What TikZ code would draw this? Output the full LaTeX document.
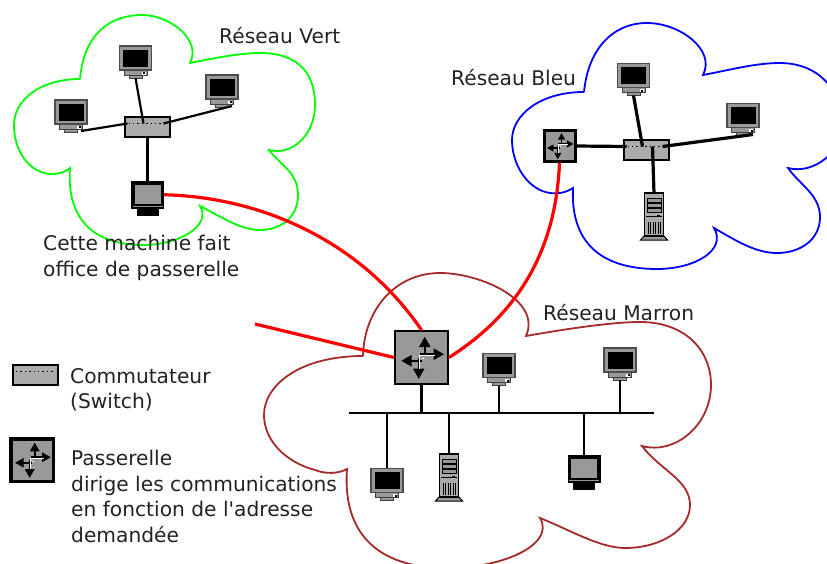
\documentclass[tikz,border=0pt]{standalone}
\usepackage{fontspec}
\setmainfont{DejaVu Sans}[Ligatures=TeXOff]
\usetikzlibrary{arrows.meta}

\definecolor{brique}{HTML}{A52A2A}
\definecolor{encre}{HTML}{222222}
\definecolor{gris}{HTML}{999999}
\definecolor{grisclair}{HTML}{ABABAB}

\tikzset{
	cloudline/.style={line width=1.8pt},
	cable/.style={line width=2.2pt},
	cablefort/.style={line width=3.2pt},
	redline/.style={red,line width=3.2pt},
	label/.style={anchor=north west,inner sep=0pt,align=left,text=encre,font=\fontsize{20.2}{25.5}\selectfont},
	pics/pc/.style={code={
		\draw[fill=gris,draw=black!75,line width=1pt] (-6.5,16) rectangle (6.5,20);
		\draw[fill=gris,draw=black!75,line width=1pt] (-11.5,12) rectangle (11.5,17);
		\fill[white] (6,13.5) rectangle (10,16.5);
		\fill[black] (7.5,14) rectangle (9.5,16);
		\node[draw=black!70,fill=gris,line width=1.2pt,minimum width=32pt,minimum height=24pt,inner sep=0pt] (box) at (0,0) {};
		\fill[black] (-12.5,-8.5) rectangle (12.5,8.5);
		\coordinate (port) at (0,20);
		\coordinate (portr) at (10,19);
	}},
	pics/terminal/.style={code={
		\fill[black] (-11,13) rectangle (11,20.5);
		\node[fill=black,minimum width=33pt,minimum height=27.5pt,inner sep=0pt] (box) at (0,-.25) {};
		\fill[gris] (-13,-10.5) rectangle (13,8.5);
		\fill[gris] (-15,10.5) rectangle (15,12);
		\coordinate (port) at (0,-14);
	}},
	pics/tower/.style={code={
		\draw[fill=gris,line width=1pt] (-13.5,22) -- (-10,18) -- (10,18) -- (13.5,22) -- cycle;
		\node[draw=black,fill=grisclair,line width=1.2pt,minimum width=19pt,minimum height=43pt,inner sep=0pt] (box) at (0,-3.5) {};
		\foreach \y in {-20,-15,-10} {
			\draw[fill=gris,line width=.8pt] (-7,\y) rectangle (7,\y+4.5);
		}
		\draw[line width=.8pt] (-8,-2) -- (8,-2);
		\fill[black] (3,-3.5) rectangle (6,-1);
		\foreach \x in {-6,-3.5,-1,1.5,4,6.5} {
			\draw[line width=.8pt] (\x,4) -- (\x,16);
		}
		\coordinate (port) at (0,-25);
	}},
	pics/switchbox/.style={code={
		\node[draw=black,fill=grisclair,line width=2pt,minimum width=45pt,minimum height=20pt,inner sep=0pt] (box) at (0,0) {};
		\draw[black,line width=1.4pt,dash pattern=on 1.4pt off 3pt] (-19,-3) -- (19,-3);
		\coordinate (w) at (-20,-3);
		\coordinate (n) at (-4,-3);
		\coordinate (s) at (6,-3);
		\coordinate (e) at (16,-3);
	}},
	pics/gateway/.style 2 args={code={
		\node[draw=black,fill=gris,line width=#2,minimum width=#1 pt-#2,minimum height=#1 pt-#2,inner sep=0pt] (box) at (0,0) {};
		\begin{scope}[x=#1 pt,y=-#1 pt,>={Triangle[length=#1*.19pt,width=#1*.2pt]}]
			\draw[->,line width=#1*.045pt] (.06,-.03) -- (.06,-.38);
			\draw[->,line width=#1*.045pt] (-.03,-.06) -- (.41,-.06);
			\draw[->,line width=#1*.045pt] (.01,.06) -- (-.37,.06);
			\draw[->,line width=#1*.045pt] (-.05,.01) -- (-.05,.39);
			\draw[white,line width=#1*.018pt] (-.04,.2) -- (-.04,-.04) -- (.25,-.04);
			\draw[white,line width=#1*.014pt] (0,.02) -- (.05,.02);
		\end{scope}
	}}
}

\begin{document}
\begin{tikzpicture}[x=1pt,y=-1pt]
	\useasboundingbox (0,0) rectangle (827,563);

	\draw[green,cloudline] (80,79) .. controls (84,32) and (112,15) .. (142,15)
		.. controls (170,15) and (202,40) .. (190,63)
		.. controls (215,58) and (240,53) .. (260,53)
		.. controls (295,53) and (315,70) .. (315,105)
		.. controls (315,135) and (292,156) .. (269,150)
		.. controls (280,165) and (298,172) .. (298,195)
		.. controls (298,218) and (280,230) .. (260,230)
		.. controls (240,230) and (220,216) .. (200,206)
		.. controls (212,225) and (180,245) .. (143,245)
		.. controls (100,245) and (66,225) .. (70,168)
		.. controls (62,174) and (55,174) .. (50,174)
		.. controls (28,172) and (14,150) .. (14,125)
		.. controls (14,100) and (40,79) .. (80,79);
	\draw[blue,cloudline] (584,92) .. controls (588,50) and (612,23) .. (647,23)
		.. controls (680,23) and (716,50) .. (703,75)
		.. controls (730,70) and (755,63) .. (780,63)
		.. controls (810,63) and (840,80) .. (842,125)
		.. controls (843,150) and (815,175) .. (788,168)
		.. controls (800,185) and (820,195) .. (820,217)
		.. controls (820,240) and (800,253) .. (777,253)
		.. controls (755,253) and (735,240) .. (714,228)
		.. controls (727,250) and (695,269) .. (657,269)
		.. controls (610,269) and (570,250) .. (573,188)
		.. controls (565,193) and (558,194) .. (550,193)
		.. controls (528,190) and (512,165) .. (512,140)
		.. controls (512,115) and (540,92) .. (584,92);
	\draw[brique,cloudline] (363,356) .. controls (364,310) and (395,273) .. (440,273)
		.. controls (480,273) and (542,300) .. (526,336)
		.. controls (560,330) and (610,322) .. (640,322)
		.. controls (685,322) and (711,350) .. (711,385)
		.. controls (711,425) and (675,455) .. (642,446)
		.. controls (660,470) and (690,480) .. (690,505)
		.. controls (690,530) and (660,548) .. (625,548)
		.. controls (600,548) and (570,530) .. (540,518)
		.. controls (556,545) and (500,570) .. (440,568)
		.. controls (385,566) and (342,540) .. (347,469)
		.. controls (338,474) and (325,474) .. (315,470)
		.. controls (285,462) and (264,440) .. (264,415)
		.. controls (264,385) and (300,356) .. (363,356);

	\node[label] (titrevert) at (219,27) {Réseau Vert};
	\node[label] (titrebleu) at (451,69) {Réseau Bleu};
	\node[label] (titremarron) at (543,304) {Réseau Marron};
	\node[label] (notemachine) at (43,235) {Cette machine fait\\office de passerelle};
	\node[label] (legswitch) at (70,368) {Commutateur\\(Switch)};
	\node[label] (leggateway) at (71,450) {Passerelle\\dirige les communications\\en fonction de l'adresse\\demandée};

	\pic (vertsw) at (147.5,126.5) {switchbox};
	\pic (vert1) at (71,112) {pc};
	\pic (vert2) at (135.5,58) {pc};
	\pic (vert3) at (222,87) {pc};
	\pic (vertgw) at (147.5,195) {terminal};

	\pic (bleusw) at (646.5,149.5) {switchbox};
	\pic (bleu1) at (633.5,75.5) {pc};
	\pic (bleu2) at (743,115.5) {pc};
	\pic (bleusrv) at (654,218) {tower};
	\pic (bleugw) at (559.5,146) {gateway={34}{3pt}};

	\pic (margw) at (421.5,357.5) {gateway={55}{2pt}};
	\pic (mar1) at (499,365.5) {pc};
	\pic (mar2) at (620,360) {pc};
	\pic (mar3) at (387,480.5) {pc};
	\pic (mar4) at (584,469) {terminal};
	\pic (marsrv) at (449,479) {tower};

	\pic (legsw) at (35,374.5) {switchbox};
	\pic (leggw) at (32,460) {gateway={46}{3.5pt}};

	\coordinate (busw) at (349,413);
	\coordinate (buse) at (654,413);
	\coordinate (entree) at (255,324);

	\path [cable] (vert1portr) edge (vertsww);
	\path [cable] (vert2port) edge (vertswn);
	\path [cable] (vert3portr) edge (vertswe);
	\path [cable] (vertswbox.south) edge (vertgwport);

	\path [cablefort] (bleu1port) edge (bleuswn);
	\path [cablefort] (bleu2portr) edge (bleuswe);
	\path [cablefort] (bleusrvport) edge (bleusws);
	\path [cablefort] (bleugwbox.east) edge (bleusww);

	\path [cable] (busw) edge (buse);
	\path [cable] (margwbox.south) edge (margwbox.south |- busw);
	\path [cable] (mar1port) edge (mar1port |- busw);
	\path [cable] (mar2port) edge (mar2port |- busw);
	\path [cable] (mar3box.north) edge (mar3box.north |- busw);
	\path [cable] (mar4port) edge (mar4port |- busw);
	\path [cable] (marsrvport) edge (marsrvport |- busw);

	\draw[redline] (vertgwbox.east) .. controls (260,197) and (360,240) .. (margwbox.north);
	\draw[redline] (bleugwbox.south) .. controls (555,270) and (500,325) .. (margwbox.east);
	\draw[redline] (entree) -- (margwbox.west);
\end{tikzpicture}
\end{document}
